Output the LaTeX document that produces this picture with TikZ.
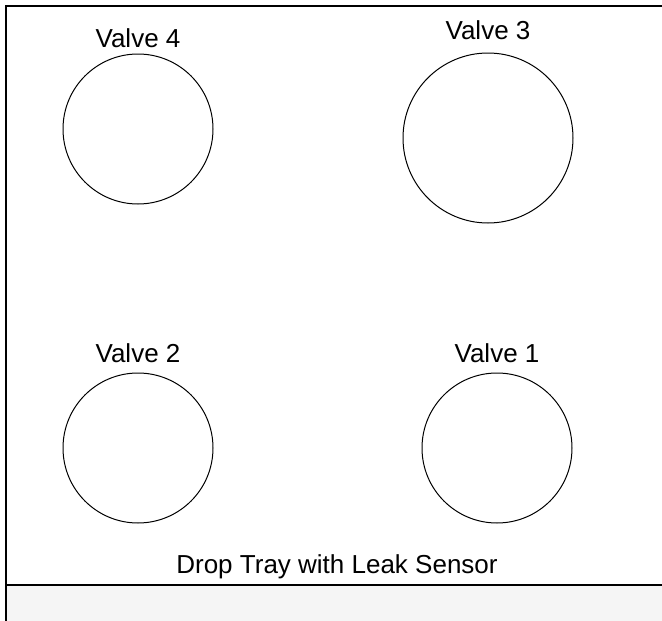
\documentclass[tikz,border=0pt]{standalone}
\usepackage{fontspec}
\setmainfont{Liberation Sans}
\usetikzlibrary{positioning}
\definecolor{ink}{HTML}{000000}
\definecolor{trayfill}{HTML}{F5F5F5}

\begin{document}
\begin{tikzpicture}[
    x=1pt, y=-1pt,
    font=\fontsize{26}{31}\selectfont,
    valve/.style={draw=ink, circle, line width=1pt, inner sep=0pt,
                  minimum size=150pt},
    tag/.style={text=ink, inner sep=0pt},
    frame/.style={draw=ink, line width=2pt},
  ]
\useasboundingbox (0,0) rectangle (662,621);

% drip tray strip along the bottom
\fill[trayfill] (6,585) rectangle (662,621);
\coordinate (cornerbl) at (6,621);
\coordinate (cornertl) at (6,6);
\coordinate (cornertr) at (662,6);
\coordinate (trayl) at (6,585);
\coordinate (trayr) at (662,585);
\draw[frame] (cornerbl) -- (cornertl) -- (cornertr);
\draw[frame] (trayl) -- (trayr);

% valves
\node[valve] (v4) at (138,129) {};
\node[valve, minimum size=170pt] (v3) at (488,138) {};
\node[valve] (v2) at (138,448) {};
\node[valve] (v1) at (497,448) {};

\node[tag, above=6pt of v4] (l4) {Valve 4};
\node[tag, above=13pt of v3] (l3) {Valve 3};
\node[tag, above=10pt of v2] (l2) {Valve 2};
\node[tag, above=10pt of v1] (l1) {Valve 1};

\node[tag, anchor=base] (tray) at (337,573) {Drop Tray with Leak Sensor};

\end{tikzpicture}
\end{document}
